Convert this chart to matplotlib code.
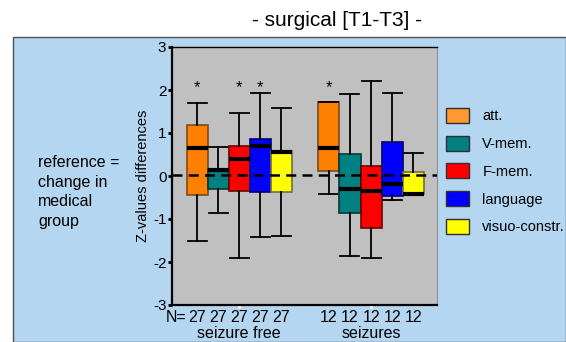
import matplotlib
matplotlib.use("Agg")
import matplotlib.pyplot as plt
from matplotlib.patches import Rectangle, Patch

plt.rcParams["font.family"] = ["Liberation Sans", "DejaVu Sans"]
plt.rcParams["axes.unicode_minus"] = False

# data
domains = ["att.", "V-mem.", "F-mem.", "language", "visuo-constr."]
groups = ["seizure free", "seizures"]
n_free = [27, 27, 27, 27, 27]
n_seiz = [12, 12, 12, 12, 12]

free_whislo = [-1.50, -0.87, -1.90, -1.43, -1.40]
free_q1 = [-0.44, -0.31, -0.35, -0.38, -0.38]
free_med = [0.66, 0.15, 0.39, 0.70, 0.55]
free_q3 = [1.19, 0.16, 0.70, 0.87, 0.57]
free_whishi = [1.70, 0.67, 1.46, 1.92, 1.57]

seiz_whislo = [-0.43, -1.87, -1.90, -0.56, -0.42]
seiz_q1 = [0.12, -0.85, -1.22, -0.46, -0.42]
seiz_med = [0.66, -0.31, -0.36, -0.19, -0.42]
seiz_q3 = [1.71, 0.51, 0.23, 0.79, 0.09]
seiz_whishi = [1.71, 1.90, 2.22, 1.92, 0.53]

# significance markers (group index, domain index)
stars = [(0, 0), (0, 2), (0, 3), (1, 0)]

fills = ["#FF8000", "#008080", "#FF0000", "#0000FF", "#FFFF00"]
legend_fills = ["#FF9933", "#008080", "#FF0000", "#0000FF", "#FFFF00"]
edges = ["#7A4A20", "#003838", "#700000", "#000070", "#707040"]

W, H = 566, 342
fig = plt.figure(figsize=(W / 100, H / 100), dpi=100)


def px(x, y):
    return x / W, 1 - y / H


# blue panel
fig.patches.append(Rectangle(px(13, 342), (W - 13) / W, (342 - 37) / H,
                             transform=fig.transFigure, facecolor="#B4D6F0",
                             edgecolor="#505050", lw=1, zorder=-5))

ax = fig.add_axes([172 / W, 1 - 305 / H, 265 / W, 258 / H])
ax.set_zorder(2)
ax.set_facecolor("#C0C0C0")

offsets = [-0.32, -0.16, 0.0, 0.16, 0.32]
width = 0.16

all_stats = [
    (free_whislo, free_q1, free_med, free_q3, free_whishi),
    (seiz_whislo, seiz_q1, seiz_med, seiz_q3, seiz_whishi),
]
for g, (lo, q1, med, q3, hi) in enumerate(all_stats):
    for i in range(len(domains)):
        st = [dict(whislo=lo[i], q1=q1[i], med=med[i], q3=q3[i], whishi=hi[i], fliers=[])]
        ax.bxp(st, positions=[g + 1 + offsets[i]], widths=width, patch_artist=True,
               showfliers=False,
               boxprops=dict(facecolor=fills[i], edgecolor=edges[i], lw=1.2),
               medianprops=dict(color="black", lw=3, solid_capstyle="butt"),
               whiskerprops=dict(color="black", lw=1.3),
               capprops=dict(color="black", lw=1.3),
               capwidths=width * 0.9)

for g, i in stars:
    ax.text(g + 1 + offsets[i], 2.05, "*", ha="center", va="center", fontsize=12)

ax.axhline(0.03, color="black", ls=(0, (4, 2.5)), lw=1.8, zorder=5)

ax.set_xlim(0.49, 2.5)
ax.set_ylim(-3, 3)
ax.set_yticks(range(-3, 4))
ax.tick_params(axis="y", direction="out", length=3, width=2, labelsize=11, pad=1)
ax.set_xticks([1, 2])
ax.set_xticklabels([])
ax.tick_params(axis="x", direction="out", length=2, width=2, color="white")
ax.set_ylabel("Z-values differences", fontsize=10.5, labelpad=2)

for s in ["left", "bottom"]:
    ax.spines[s].set_linewidth(1.6)
ax.spines["top"].set_linewidth(1)
ax.spines["right"].set_color("#909090")

# N labels and group names
fig.text(*px(176, 317), "N=", ha="center", va="center", fontsize=11.5)
for g, ns in enumerate([n_free, n_seiz]):
    for i, n in enumerate(ns):
        xd = ax.transData.transform((g + 1 + offsets[i], 0))[0]
        fig.text(xd / W, 1 - 317 / H, str(n), ha="center", va="center", fontsize=11.5)
    xc = ax.transData.transform((g + 1, 0))[0]
    fig.text(xc / W, 1 - 334 / H, groups[g], ha="center", va="center", fontsize=11.5)

fig.text(*px(337, 21), "- surgical [T1-T3] -", ha="center", va="center", fontsize=15)

fig.text(*px(38, 155), "reference =\nchange in\nmedical\ngroup", ha="left", va="top",
         fontsize=11.5, linespacing=1.38)

handles = [Patch(facecolor=c, edgecolor="#303030") for c in legend_fills]
fig.legend(handles, domains, loc="upper left", bbox_to_anchor=px(440, 102),
           frameon=False, fontsize=10.5, handlelength=1.6, handleheight=1.2,
           labelspacing=0.85, handletextpad=0.9, borderaxespad=0)

fig.savefig("out.png", dpi=100)
